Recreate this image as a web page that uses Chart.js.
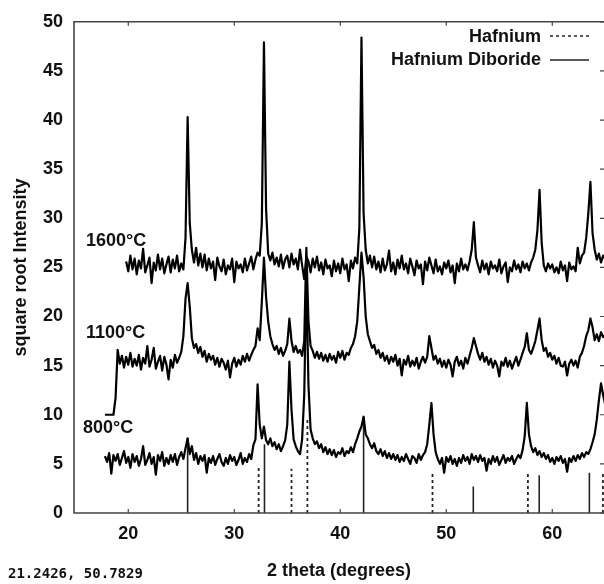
<!DOCTYPE html>
<html>
<head>
<meta charset="utf-8">
<script src="https://cdn.jsdelivr.net/npm/chart.js@4.4.1/dist/chart.umd.min.js"></script>
<style>html,body{margin:0;padding:0;background:#fff;}canvas{display:block;}</style>
</head>
<body>
<canvas id="c" width="604" height="584"></canvas>
<script>
// 2θ scan positions (degrees)
const twoTheta = [17.8,
18,18.2,18.4,18.6,18.8, 19,19.2,19.4,19.6,19.8, 20,20.2,20.4,20.6,20.8, 21,21.2,21.4,21.6,21.8,
22,22.2,22.4,22.6,22.8, 23,23.2,23.4,23.6,23.8, 24,24.2,24.4,24.6,24.8, 25,25.2,25.4,25.6,25.8,
26,26.2,26.4,26.6,26.8, 27,27.2,27.4,27.6,27.8, 28,28.2,28.4,28.6,28.8, 29,29.2,29.4,29.6,29.8,
30,30.2,30.4,30.6,30.8, 31,31.2,31.4,31.6,31.8, 32,32.2,32.4,32.6,32.8, 33,33.2,33.4,33.6,33.8,
34,34.2,34.4,34.6,34.8, 35,35.2,35.4,35.6,35.8, 36,36.2,36.4,36.6,36.8, 37,37.2,37.4,37.6,37.8,
38,38.2,38.4,38.6,38.8, 39,39.2,39.4,39.6,39.8, 40,40.2,40.4,40.6,40.8, 41,41.2,41.4,41.6,41.8,
42,42.2,42.4,42.6,42.8, 43,43.2,43.4,43.6,43.8, 44,44.2,44.4,44.6,44.8, 45,45.2,45.4,45.6,45.8,
46,46.2,46.4,46.6,46.8, 47,47.2,47.4,47.6,47.8, 48,48.2,48.4,48.6,48.8, 49,49.2,49.4,49.6,49.8,
50,50.2,50.4,50.6,50.8, 51,51.2,51.4,51.6,51.8, 52,52.2,52.4,52.6,52.8, 53,53.2,53.4,53.6,53.8,
54,54.2,54.4,54.6,54.8, 55,55.2,55.4,55.6,55.8, 56,56.2,56.4,56.6,56.8, 57,57.2,57.4,57.6,57.8,
58,58.2,58.4,58.6,58.8, 59,59.2,59.4,59.6,59.8, 60,60.2,60.4,60.6,60.8, 61,61.2,61.4,61.6,61.8,
62,62.2,62.4,62.6,62.8, 63,63.2,63.4,63.6,63.8, 64,64.2,64.4,64.6,64.8,
65];

// square-root intensity, 1600 °C
const int1600 = [null,
null,null,null,null,null, null,null,null,null,25.6, 24.6,26.2,24.8,25.9,24.3, 25.7,24.9,26.9,24.5,25.2,
26.0,23.4,25.5,24.7,26.3, 24.8,25.9,24.4,25.3,26.1, 24.5,25.8,24.9,26.2,24.6, 25.4,24.8,28.0,40.3,29.5,
26.8,25.5,27.0,25.2,26.4, 25.0,26.3,24.7,25.9,24.9, 25.6,23.7,26.0,25.1,24.6, 25.8,24.3,25.2,24.8,25.9,
23.5,25.6,24.9,25.3,24.5, 25.9,24.7,25.4,26.1,24.8, 25.8,26.5,26.2,29.5,47.9, 31.0,26.4,25.7,26.5,25.3,
26.0,25.1,26.3,24.9,25.8, 26.2,25.0,26.4,25.3,25.9, 24.8,26.8,25.2,23.8,26.1, 25.6,24.5,25.9,25.0,26.1,
24.7,25.5,24.3,25.8,24.9, 25.2,24.1,25.7,24.6,25.4, 24.4,25.9,24.8,25.3,23.6, 25.7,24.9,26.0,25.4,29.0,
48.4,30.5,26.8,25.4,26.2, 25.0,26.1,24.8,25.6,24.5, 25.9,24.7,25.3,26.7,24.6, 25.5,24.3,25.8,24.9,26.2,
24.8,25.4,24.4,25.9,25.1, 24.2,25.7,24.9,25.3,23.3, 25.6,24.7,26.0,25.2,24.4, 25.8,24.6,25.1,24.3,25.5,
24.9,25.7,24.5,25.2,23.4, 25.4,24.6,25.9,24.8,25.3, 24.7,25.6,26.8,29.6,26.0, 25.2,24.5,25.7,24.8,25.4,
24.3,25.6,24.9,25.2,24.6, 25.8,24.4,25.1,25.5,23.5, 25.0,24.6,25.7,24.8,25.3, 24.5,25.6,24.9,25.4,24.7,
25.5,26.0,26.8,28.8,32.9, 27.5,25.2,24.6,25.4,24.9, 25.3,24.5,25.0,24.4,25.6, 24.7,25.2,23.6,25.5,24.8,
25.1,24.6,27.0,25.4,26.2, 26.5,28.0,30.5,33.7,28.5, 26.8,25.8,26.4,25.5,26.2,
25.9];

// square-root intensity, 1100 °C
const int1100 = [10.0,
10.0,10.0,10.0,10.0,11.7, 16.6,15.2,16.0,14.8,15.9, 15.1,16.3,14.9,15.7,15.0, 16.1,14.6,15.8,15.2,17.0,
14.9,15.6,16.8,14.7,15.4, 16.0,14.5,15.9,15.1,13.6, 15.6,14.8,16.1,15.3,15.8, 16.4,18.0,21.8,23.4,21.0,
17.8,16.8,17.2,16.3,16.9, 15.9,16.5,15.4,16.2,15.6, 16.0,15.1,15.8,14.9,15.7, 15.3,14.6,15.5,13.8,15.2,
15.8,14.9,15.6,15.1,16.0, 15.4,16.2,15.5,16.1,16.6, 17.0,18.8,17.6,21.5,26.0, 22.0,19.5,18.0,17.2,16.6,
17.0,16.2,16.8,16.0,16.5, 17.2,19.8,17.5,16.4,17.0, 16.3,16.6,16.0,17.5,27.0, 19.5,17.0,16.5,15.8,16.4,
15.7,16.3,15.5,16.1,15.4, 16.2,15.6,16.0,15.3,16.4, 15.8,16.5,15.6,16.3,16.1, 16.8,17.2,18.0,19.5,23.0,
26.5,24.0,20.0,18.2,17.5, 16.8,17.1,16.2,16.6,15.8, 16.3,15.5,16.0,15.2,15.9, 15.4,16.1,15.0,15.7,14.0,
15.6,15.1,16.0,14.9,15.5, 15.0,15.8,14.7,15.4,15.9, 15.3,15.9,18.0,16.8,15.6, 16.0,15.2,15.7,14.9,15.5,
14.8,15.6,15.1,13.9,15.4, 15.9,15.0,15.5,14.7,15.8, 15.2,16.0,16.8,17.8,17.0, 16.2,15.6,16.3,15.4,15.9,
15.1,15.7,14.8,15.5,15.0, 13.9,15.4,15.0,15.8,14.9, 15.5,14.7,15.3,15.9,15.0, 15.6,16.3,16.9,18.3,16.6,
16.2,16.8,17.5,18.6,19.8, 17.6,16.5,16.8,15.9,16.3, 15.6,16.0,15.2,15.8,15.0, 14.9,15.4,14.0,15.2,15.6,
15.0,15.5,14.8,15.9,16.3, 17.0,18.0,18.6,19.8,18.9, 17.6,18.2,17.5,18.4,17.9,
18.1];

// square-root intensity, 800 °C
const int800 = [5.8,
5.2,6.1,4.0,5.9,5.3, 6.0,4.9,5.6,6.3,5.1, 5.7,4.6,6.0,5.2,5.8, 4.8,5.5,6.8,4.9,5.4,
6.1,5.0,5.7,3.9,5.9, 5.3,6.2,4.8,5.6,5.0, 5.9,5.2,6.0,4.9,5.7, 6.2,5.5,6.6,7.6,6.0,
6.8,5.4,6.1,5.0,5.8, 5.3,5.9,4.1,5.6,5.1, 5.8,4.9,5.5,6.0,5.2, 4.8,5.6,5.0,5.9,5.3,
5.7,4.9,5.4,6.1,5.0, 5.6,5.2,6.0,5.5,6.9, 7.5,13.1,9.0,7.6,8.8, 7.4,7.0,7.6,6.8,7.2,
6.5,7.0,6.3,6.8,7.4, 9.0,15.4,10.5,7.5,6.8, 6.3,6.0,7.5,12.0,24.0, 13.0,8.5,7.6,7.0,7.3,
6.6,7.0,6.2,6.7,6.0, 6.5,5.9,6.4,5.7,6.2, 6.0,6.6,5.8,6.3,6.1, 6.7,6.2,7.0,7.6,8.3,
8.8,9.8,8.0,7.6,7.0, 6.6,7.1,6.3,6.0,6.5, 5.8,6.3,5.6,6.1,5.5, 6.0,5.4,5.9,5.2,5.7,
5.3,6.0,5.5,5.0,5.8, 5.6,5.1,6.0,5.4,5.9, 6.2,7.0,9.0,11.2,8.0, 6.2,5.5,5.0,5.6,4.1,
5.7,5.2,5.8,5.0,5.5, 4.8,5.6,5.1,5.9,5.3, 5.7,5.0,6.0,5.4,5.8, 5.2,5.9,5.3,5.6,4.3,
5.5,5.0,5.8,5.2,5.7, 4.9,5.4,5.9,5.1,5.6, 5.3,5.8,5.0,5.5,5.9, 5.6,6.4,7.8,11.2,8.0,
6.8,6.2,6.6,5.9,6.3, 5.7,6.1,5.5,5.9,5.2, 5.6,5.0,5.7,5.3,5.8, 5.1,5.5,4.2,5.6,5.2,
5.8,5.3,5.9,5.5,6.1, 5.7,6.2,6.0,6.5,7.2, 8.0,9.5,11.5,13.2,12.0,
11.0];

// reference stick patterns
const hafniumPos = [32.3, 35.4, 36.9, 48.7, 57.7, 64.78];
const hafniumHeight = [4.6, 4.5, 9.7, 4.0, 4.0, 4.1];
const diboridePos = [25.6, 32.85, 42.2, 52.55, 58.77, 63.5];
const diborideHeight = [7.6, 7.0, 9.8, 2.7, 3.85, 4.1];

const xTicks = [20, 30, 40, 50, 60];
const yTicks = [0, 5, 10, 15, 20, 25, 30, 35, 40, 45, 50];
const seriesLabels = ['1600°C', '1100°C', '800°C'];
const legendLabels = ['Hafnium', 'Hafnium Diboride'];
const cursorReadout = '21.2426, 50.7829';

const FONT = "'Liberation Sans', Arial, sans-serif";
const INK = '#111';

function trace(vals) {
  return twoTheta.map((t, i) => ({x: t, y: vals[i]}));
}
function sticks(pos, h) {
  const out = [];
  pos.forEach((p, i) => { out.push({x: p, y: 0}, {x: p, y: h[i]}, {x: p, y: null}); });
  return out;
}

const lineStyle = {borderColor: '#000', borderWidth: 2.2, pointRadius: 0, tension: 0,
  borderJoinStyle: 'round', fill: false, spanGaps: false};

const decor = {
  id: 'decor',
  afterDatasetsDraw(chart) {
    const {ctx, chartArea: {left, right, top, bottom}, scales: {x, y}} = chart;
    ctx.save();
    ctx.strokeStyle = '#444';
    ctx.lineWidth = 1.6;
    ctx.beginPath();
    ctx.moveTo(right + 2, top); ctx.lineTo(left, top); ctx.lineTo(left, bottom); ctx.lineTo(right + 2, bottom);
    ctx.stroke();
    ctx.lineWidth = 1.2;
    ctx.beginPath();
    xTicks.forEach(v => {
      const p = x.getPixelForValue(v);
      ctx.moveTo(p, bottom); ctx.lineTo(p, bottom - 4);
      ctx.moveTo(p, top); ctx.lineTo(p, top + 4);
    });
    yTicks.forEach(v => {
      const p = y.getPixelForValue(v);
      ctx.moveTo(right, p); ctx.lineTo(right - 4, p);
    });
    ctx.stroke();

    // series labels
    ctx.fillStyle = INK;
    ctx.font = 'bold 18px ' + FONT;
    ctx.textAlign = 'left';
    ctx.textBaseline = 'middle';
    ctx.fillText(seriesLabels[0], 86, 241);
    ctx.fillText(seriesLabels[1], 86, 333);
    ctx.fillText(seriesLabels[2], 83, 428);

    // legend
    ctx.textAlign = 'right';
    ctx.textBaseline = 'alphabetic';
    ctx.fillText(legendLabels[0], 541, 42);
    ctx.fillText(legendLabels[1], 541, 65);
    ctx.strokeStyle = '#222';
    ctx.lineWidth = 1.5;
    ctx.setLineDash([3, 3]);
    ctx.beginPath(); ctx.moveTo(550, 36); ctx.lineTo(589, 36); ctx.stroke();
    ctx.setLineDash([]);
    ctx.beginPath(); ctx.moveTo(550, 60); ctx.lineTo(589, 60); ctx.stroke();

    // cursor readout
    ctx.textAlign = 'left';
    ctx.textBaseline = 'middle';
    ctx.font = 'bold 14px "DejaVu Sans Mono", monospace';
    ctx.fillText(cursorReadout, 8, 574);
    ctx.restore();
  }
};

new Chart(document.getElementById('c'), {
  type: 'line',
  data: {
    datasets: [
      Object.assign({label: seriesLabels[0], data: trace(int1600)}, lineStyle),
      Object.assign({label: seriesLabels[1], data: trace(int1100)}, lineStyle),
      Object.assign({label: seriesLabels[2], data: trace(int800)}, lineStyle),
      {label: legendLabels[0], data: sticks(hafniumPos, hafniumHeight), borderColor: '#222',
       borderWidth: 1.8, borderDash: [3, 3], pointRadius: 0, spanGaps: false, tension: 0},
      {label: legendLabels[1], data: sticks(diboridePos, diborideHeight), borderColor: '#222',
       borderWidth: 1.6, pointRadius: 0, spanGaps: false, tension: 0}
    ]
  },
  options: {
    responsive: false,
    animation: false,
    devicePixelRatio: 1,
    layout: {padding: {top: 19, right: 0, bottom: 0, left: 0}},
    plugins: {legend: {display: false}, tooltip: {enabled: false}},
    scales: {
      x: {
        type: 'linear', min: 14.88, max: 64.88,
        grid: {display: false, drawTicks: false},
        border: {display: false},
        afterBuildTicks: s => { s.ticks = xTicks.map(v => ({value: v})); },
        afterFit: s => { s.height = 71; },
        ticks: {color: INK, font: {family: FONT, size: 18, weight: 'bold'}, padding: 10, maxRotation: 0,
                callback: v => String(v)},
        title: {display: true, text: '2 theta (degrees)', color: INK,
                font: {family: FONT, size: 18, weight: 'bold'}, padding: {top: 0, bottom: 2}}
      },
      y: {
        type: 'linear', min: 0, max: 50,
        grid: {display: false, drawTicks: false},
        border: {display: false},
        afterBuildTicks: s => { s.ticks = yTicks.map(v => ({value: v})); },
        afterFit: s => { s.width = 74; },
        ticks: {color: INK, font: {family: FONT, size: 18, weight: 'bold'}, padding: 11,
                callback: v => String(v)},
        title: {display: true, text: 'square root Intensity', color: INK,
                font: {family: FONT, size: 18, weight: 'bold'}, padding: {top: 10, bottom: 0}}
      }
    }
  },
  plugins: [decor]
});
</script>
</body>
</html>
